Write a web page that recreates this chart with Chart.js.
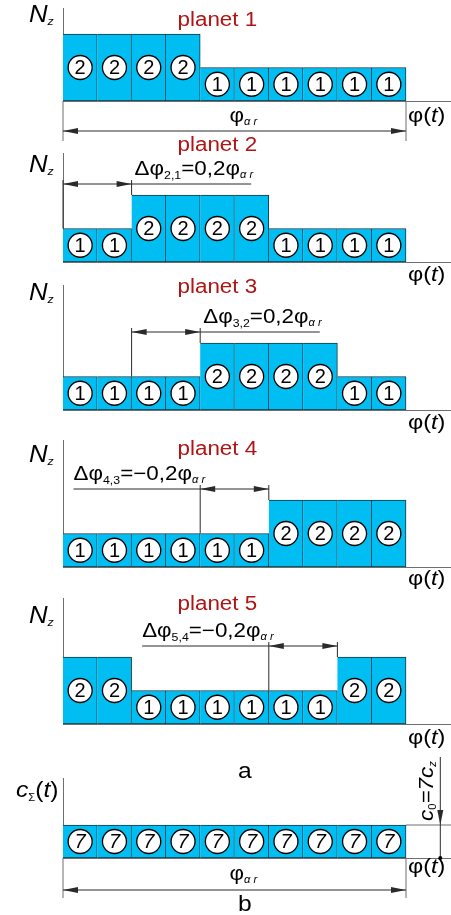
<!DOCTYPE html>
<html>
<head>
<meta charset="utf-8">
<script src="https://cdn.jsdelivr.net/npm/chart.js@4"></script>
<style>
html, body { margin: 0; padding: 0; background: #fff; }
#wrap { position: relative; width: 451px; height: 915px; }
canvas { position: absolute; left: 0; top: 0; }
</style>
</head>
<body>
<div id="wrap">
  <canvas id="p1" width="451" height="915"></canvas>
  <canvas id="p2" width="451" height="915"></canvas>
  <canvas id="p3" width="451" height="915"></canvas>
  <canvas id="p4" width="451" height="915"></canvas>
  <canvas id="p5" width="451" height="915"></canvas>
  <canvas id="pb" width="451" height="915"></canvas>
</div>
<script>
// cells along phi, meshing count per cell
const cells = [1, 2, 3, 4, 5, 6, 7, 8, 9, 10];
const planet1 = [2, 2, 2, 2, 1, 1, 1, 1, 1, 1];
const planet2 = [1, 1, 2, 2, 2, 2, 1, 1, 1, 1];
const planet3 = [1, 1, 1, 1, 2, 2, 2, 2, 1, 1];
const planet4 = [1, 1, 1, 1, 1, 1, 2, 2, 2, 2];
const planet5 = [2, 2, 1, 1, 1, 1, 1, 1, 2, 2];
const sumStiff = [7, 7, 7, 7, 7, 7, 7, 7, 7, 7];
const planetNames = ['planet 1', 'planet 2', 'planet 3', 'planet 4', 'planet 5'];
// phase shift between neighbouring planets (in cells)
const shiftStart = [0, 2, 4, 6];
const shiftEnd = [2, 4, 6, 8];
const shiftIdx = ['2,1', '3,2', '4,3', '5,4'];
const shiftVal = ['0,2', '0,2', '\u22120,2', '\u22120,2'];

const FONT = '"Liberation Sans", Arial, sans-serif';
const SX = 1.12;
const FILL = '#00bef2';
const EDGE = '#1a3440';
const AXIS = '#6e6e6e';
const DIM = '#2a2a2a';
const RED = '#b01414';
const CELLW = 34.3;

function rich(ctx, parts, x, y, align) {
  let w = 0;
  parts.forEach(p => {
    ctx.font = (p.i ? 'italic ' : '') + p.s + 'px ' + FONT;
    p.w = ctx.measureText(p.t).width * SX;
    w += p.w;
  });
  let cx = align === 'right' ? x - w : align === 'center' ? x - w / 2 : x;
  const x0 = cx;
  ctx.textAlign = 'left';
  ctx.textBaseline = 'alphabetic';
  parts.forEach(p => {
    ctx.save();
    ctx.font = (p.i ? 'italic ' : '') + p.s + 'px ' + FONT;
    ctx.translate(cx, y + (p.dy || 0));
    ctx.scale(SX, 1);
    ctx.fillText(p.t, 0, 0);
    ctx.restore();
    cx += p.w;
  });
  return [x0, x0 + w];
}

function line(ctx, x0, y0, x1, y1, col) {
  ctx.strokeStyle = col || DIM;
  ctx.lineWidth = 1;
  ctx.beginPath();
  ctx.moveTo(x0, y0);
  ctx.lineTo(x1, y1);
  ctx.stroke();
}

function head(ctx, x, y, dx, dy) {
  ctx.fillStyle = DIM;
  ctx.beginPath();
  ctx.moveTo(x, y);
  ctx.lineTo(x - dx * 15 - dy * 3, y - dy * 15 - dx * 3);
  ctx.lineTo(x - dx * 15 + dy * 3, y - dy * 15 + dx * 3);
  ctx.closePath();
  ctx.fill();
}

function dimLine(ctx, x0, x1, y) {
  line(ctx, x0, y, x1, y);
  head(ctx, x0, y, -1, 0);
  head(ctx, x1, y, 1, 0);
}

const phiAr = [{t: '\u03c6', s: 20}, {t: '\u03b1 r', s: 10, i: true, dy: 3}];
const phiT = [{t: '\u03c6', s: 21}, {t: '(', s: 21}, {t: 't', s: 21, i: true}, {t: ')', s: 21}];

const panels = [
  {id: 'p1', values: planet1, top: 8, base: 101, unit: 33.5, name: 0, titleY: 26, nY: 22, phiDy: 21, span: true},
  {id: 'p2', values: planet2, top: 153, base: 262, unit: 33.5, name: 1, titleY: 151, nY: 172, phiDy: 19, shift: 0},
  {id: 'p3', values: planet3, top: 285, base: 410, unit: 33.5, name: 2, titleY: 293, nY: 300, phiDy: 19, shift: 1},
  {id: 'p4', values: planet4, top: 440, base: 567, unit: 33.5, name: 3, titleY: 455, nY: 462, phiDy: 18, shift: 2},
  {id: 'p5', values: planet5, top: 598, base: 724, unit: 33.5, name: 4, titleY: 610, nY: 623, phiDy: 20, shift: 3},
  {id: 'pb', values: sumStiff, top: 778, base: 858, unit: 33 / 7, phiDy: 15, span: true, total: true}
];

function makePlugin(p) {
  return {
    id: 'fig_' + p.id,
    afterDatasetsDraw(chart) {
      const ctx = chart.ctx;
      const meta = chart.getDatasetMeta(0);
      ctx.save();
      meta.data.forEach((bar, i) => {
        const cy = (bar.y + bar.base) / 2;
        ctx.beginPath();
        ctx.arc(bar.x, cy, 12, 0, 2 * Math.PI);
        ctx.fillStyle = '#fff';
        ctx.fill();
        ctx.lineWidth = 1.3;
        ctx.strokeStyle = '#000';
        ctx.stroke();
        ctx.fillStyle = '#000';
        ctx.font = (p.total ? 'italic ' : '') + '20px ' + FONT;
        ctx.textAlign = 'center';
        ctx.textBaseline = 'middle';
        ctx.fillText(String(p.values[i]), bar.x, cy + 1);
      });
      ctx.restore();
    },
    afterDraw(chart) {
      const ctx = chart.ctx;
      const xs = chart.scales.x, ys = chart.scales.y;
      const x0 = xs.getPixelForValue(0);
      const xn = xs.getPixelForValue(cells.length);
      const b = ys.getPixelForValue(0);
      ctx.save();
      ctx.fillStyle = '#000';
      rich(ctx, phiT, 408, b + p.phiDy, 'left');

      if (p.name !== undefined) {
        ctx.fillStyle = RED;
        rich(ctx, [{t: planetNames[p.name], s: 20}], xs.getPixelForValue(4.5), p.titleY, 'center');
        ctx.fillStyle = '#000';
        rich(ctx, [{t: 'N', s: 23, i: true}, {t: 'z', s: 11, i: true, dy: 3}], 29, p.nY, 'left');
      }

      if (p.span) {
        line(ctx, x0, b, x0, b + 40, AXIS);
        line(ctx, xn, b, xn, b + 40, AXIS);
        const ay = p.total ? b + 32 : b + 30;
        dimLine(ctx, x0, xn, ay);
        ctx.fillStyle = '#000';
        rich(ctx, phiAr, (x0 + xn) / 2 - 5, ay - (p.total ? 10 : 9), 'left');
      }

      if (p.shift !== undefined) {
        const k = p.shift;
        const s0 = xs.getPixelForValue(shiftStart[k]);
        const s1 = xs.getPixelForValue(shiftEnd[k]);
        const ay = ys.getPixelForValue(2) - 11;
        [shiftStart[k], shiftEnd[k]].forEach(c => {
          const adj = [p.values[c - 1] || 0, p.values[c] || 0];
          const top = ys.getPixelForValue(Math.max(adj[0], adj[1]));
          line(ctx, xs.getPixelForValue(c), ay - 4, xs.getPixelForValue(c), top);
        });
        dimLine(ctx, s0, s1, ay);
        const neg = shiftVal[k].charAt(0) === '\u2212';
        const parts = [
          {t: '\u0394\u03c6', s: 20}, {t: shiftIdx[k], s: 11, dy: 4},
          {t: '=' + shiftVal[k] + '\u03c6', s: 20}, {t: '\u03b1 r', s: 10, i: true, dy: 3}
        ];
        ctx.fillStyle = '#000';
        if (neg) {
          const r = rich(ctx, parts, s0 + 5, ay - 9, 'right');
          line(ctx, r[0], ay, s0, ay);
        } else {
          const r = rich(ctx, parts, s1 + 3, ay - 9, 'left');
          line(ctx, s1, ay, r[1] - 2, ay);
        }
      }

      if (p.total) {
        const yt = ys.getPixelForValue(sumStiff[sumStiff.length - 1]);
        const xa = xs.getPixelForValue(11);
        line(ctx, xn, yt, 451, yt, AXIS);
        line(ctx, xa, 757, xa, b);
        head(ctx, xa, yt, 0, 1);
        ctx.fillStyle = '#000';
        ctx.beginPath();
        ctx.arc(xa, b, 2, 0, 2 * Math.PI);
        ctx.fill();
        ctx.save();
        ctx.translate(433, yt - 4);
        ctx.rotate(-Math.PI / 2);
        rich(ctx, [{t: 'c', s: 20, i: true}, {t: '0', s: 10, dy: 3}, {t: '=7', s: 20, i: true},
                   {t: 'c', s: 20, i: true}, {t: 'z', s: 10, i: true, dy: 3}], 0, 0, 'left');
        ctx.restore();
        rich(ctx, [{t: 'c', s: 22, i: true}, {t: '\u03a3', s: 10, dy: 4}, {t: '(', s: 22},
                   {t: 't', s: 22, i: true}, {t: ')', s: 22}], 16, 797, 'left');
        rich(ctx, [{t: 'a', s: 22}], xs.getPixelForValue(5.3), 778, 'center');
        rich(ctx, [{t: 'b', s: 22}], xs.getPixelForValue(5.3), 911, 'center');
      }
      ctx.restore();
    }
  };
}

panels.forEach(p => {
  const ctx = document.getElementById(p.id).getContext('2d');
  new Chart(ctx, {
    type: 'bar',
    data: {
      datasets: [{
        data: p.values.map((v, i) => ({x: cells[i] - 0.5, y: v})),
        backgroundColor: FILL,
        borderColor: EDGE,
        borderWidth: 1,
        borderSkipped: 'left',
        barPercentage: 1,
        categoryPercentage: 1
      }]
    },
    options: {
      responsive: false,
      animation: false,
      devicePixelRatio: 1,
      layout: {padding: {left: 63, right: 0, top: p.top, bottom: 915 - p.base}},
      plugins: {legend: {display: false}, tooltip: {enabled: false}, title: {display: false}},
      scales: {
        x: {
          type: 'linear', min: 0, max: (451 - 63) / CELLW, offset: false,
          ticks: {display: false, stepSize: 1, includeBounds: false},
          grid: {display: false, drawTicks: false, offset: false},
          border: {display: true, color: AXIS, width: 1}
        },
        y: {
          type: 'linear', min: 0, max: (p.base - p.top) / p.unit,
          ticks: {display: false},
          grid: {display: false, drawTicks: false},
          border: {display: true, color: AXIS, width: 1}
        }
      }
    },
    plugins: [makePlugin(p)]
  });
});
</script>
</body>
</html>
